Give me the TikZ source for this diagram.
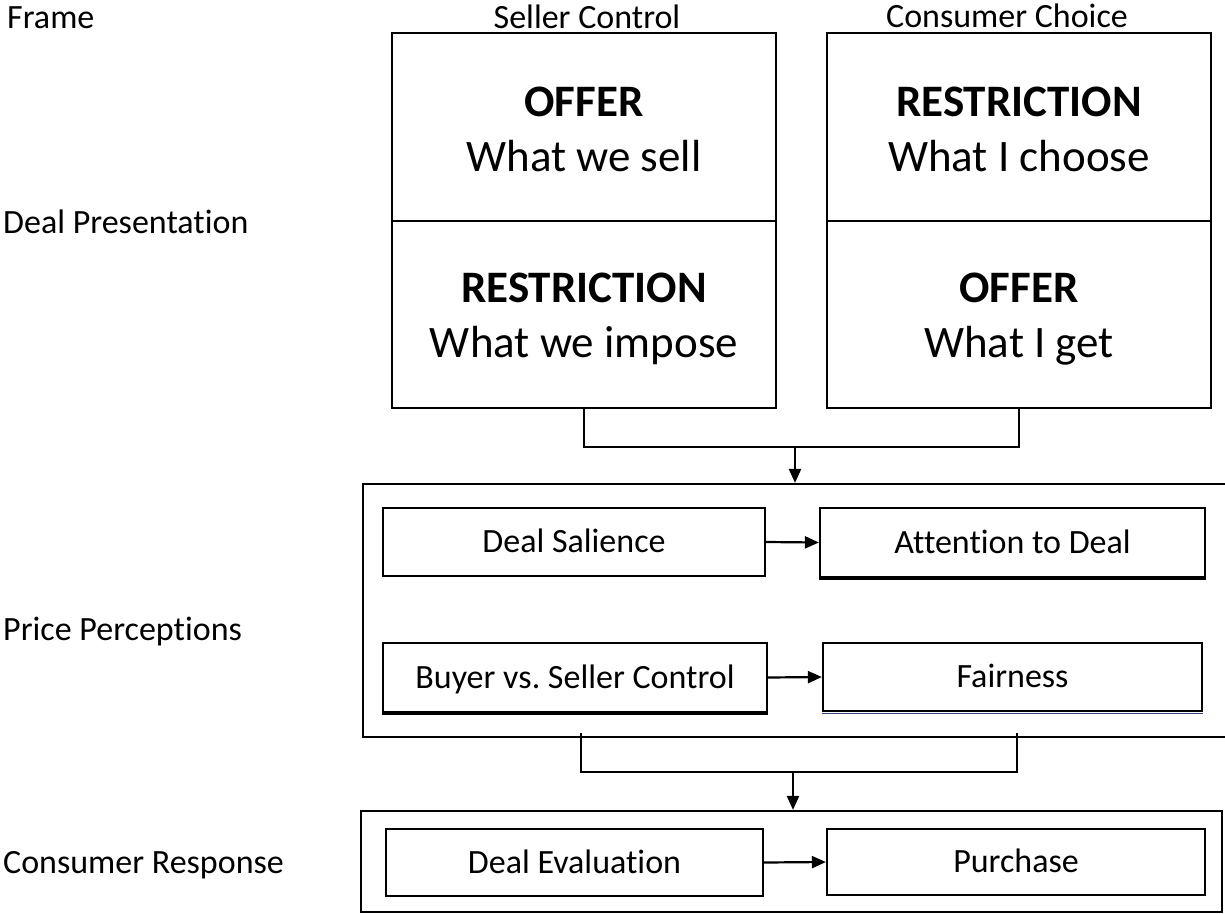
\documentclass[tikz,border=0pt]{standalone}
\usepackage{fontspec}
\setmainfont{Carlito}[Ligatures={NoCommon}]
\usetikzlibrary{arrows.meta}
\frenchspacing

\tikzset{
  line/.style={draw=black, line width=2.2pt},
  arr/.style={line, -{Triangle[length=14pt,width=12pt]}},
  halfbox/.style={line, rectangle, inner sep=0pt, minimum width=384pt, fill=white},
  outerbox/.style={line, rectangle, inner sep=0pt},
  itembox/.style={line, rectangle, inner sep=0pt, font=\fontsize{34}{40}\selectfont,
    text height=21pt, text depth=0pt},
  sidelabel/.style={anchor=base west, inner sep=0pt, font=\fontsize{34}{40}\selectfont},
  colhead/.style={anchor=base, inner sep=0pt, font=\fontsize{34}{40}\selectfont},
  boxtitle/.style={anchor=base, inner sep=0pt, font=\fontsize{45}{54}\selectfont\bfseries},
  boxsub/.style={anchor=base, inner sep=0pt, font=\fontsize{45}{54}\selectfont}
}

\begin{document}
\begin{tikzpicture}[x=1pt, y=-1pt]
\useasboundingbox (0,0) rectangle (1225,913);

% row labels
\node[sidelabel] (lframe) at (7,28) {Frame};
\node[sidelabel] (ldeal)  at (3,233) {Deal Presentation};
\node[sidelabel] (lprice) at (3,640) {Price Perceptions};
\node[sidelabel] (lcons)  at (3,873) {Consumer Response};

% column headings
\node[colhead] (hseller) at (587,28) {Seller Control};
\node[colhead] (hcons)   at (1007,27) {Consumer Choice};

% deal presentation boxes
\node[halfbox, minimum height=188pt] (offerS) at (584,127) {};
\node[halfbox, minimum height=187pt] (restrS) at (584,314.5) {};
\node[halfbox, minimum height=188pt] (restrC) at (1019,127) {};
\node[halfbox, minimum height=187pt] (offerC) at (1019,314.5) {};

\node[boxtitle] (offerSt) at (584,116) {OFFER};
\node[boxsub]   (offerSs) at (584,171) {What we sell};
\node[boxtitle] (restrSt) at (584,302) {RESTRICTION};
\node[boxsub]   (restrSs) at (584,357) {What we impose};
\node[boxtitle] (restrCt) at (1019,116) {RESTRICTION};
\node[boxsub]   (restrCs) at (1019,171) {What I choose};
\node[boxtitle] (offerCt) at (1019,302) {OFFER};
\node[boxsub]   (offerCs) at (1019,357) {What I get};

% price perceptions
\node[outerbox, minimum width=863pt, minimum height=253pt] (pp) at (794.5,610.5) {};
\node[itembox, minimum width=382pt, minimum height=68pt] (sal)  at (574,542) {Deal Salience};
\node[itembox, minimum width=385pt, minimum height=69pt] (att)  at (1012.5,542.5) {Attention to Deal};
\node[itembox, minimum width=384pt, minimum height=69pt] (buy)  at (575,677.5) {Buyer vs. Seller Control};
\node[itembox, minimum width=379pt, minimum height=68pt] (fair) at (1012.5,677) {Fairness};

% slightly heavier lower edges
\draw[line width=3pt] (att.south west) -- (att.south east);
\draw[line width=3pt] (buy.south west) -- (buy.south east);
\draw[line width=1.2pt, draw={rgb,255:red,47;green,72;blue,120}]
  ([yshift=-1.4pt]fair.south west) -- ([yshift=-1.4pt]fair.south east);

\draw[arr] (sal.east) -- (att.west);
\draw[arr] (buy.east) -- (fair.west);

% consumer response
\node[outerbox, minimum width=861pt, minimum height=101pt] (cr) at (791.5,861.5) {};
\node[itembox, minimum width=377pt, minimum height=67pt] (eval)  at (574.5,862.5) {Deal Evaluation};
\node[itembox, minimum width=378pt, minimum height=66pt] (purch) at (1016,862) {Purchase};
\draw[arr] (eval.east) -- (purch.west);

% joining connectors
\coordinate (j1) at (795,447);
\draw[line] (restrS.south) |- (j1) -| (offerC.south);
\draw[arr] (j1) -- (j1 |- pp.north);

\coordinate (a2) at (581,733);
\coordinate (b2) at (1017,733);
\coordinate (j2) at (793,772);
\draw[line] (a2) |- (j2) -| (b2);
\draw[arr] (j2) -- (j2 |- cr.north);
\end{tikzpicture}
\end{document}
